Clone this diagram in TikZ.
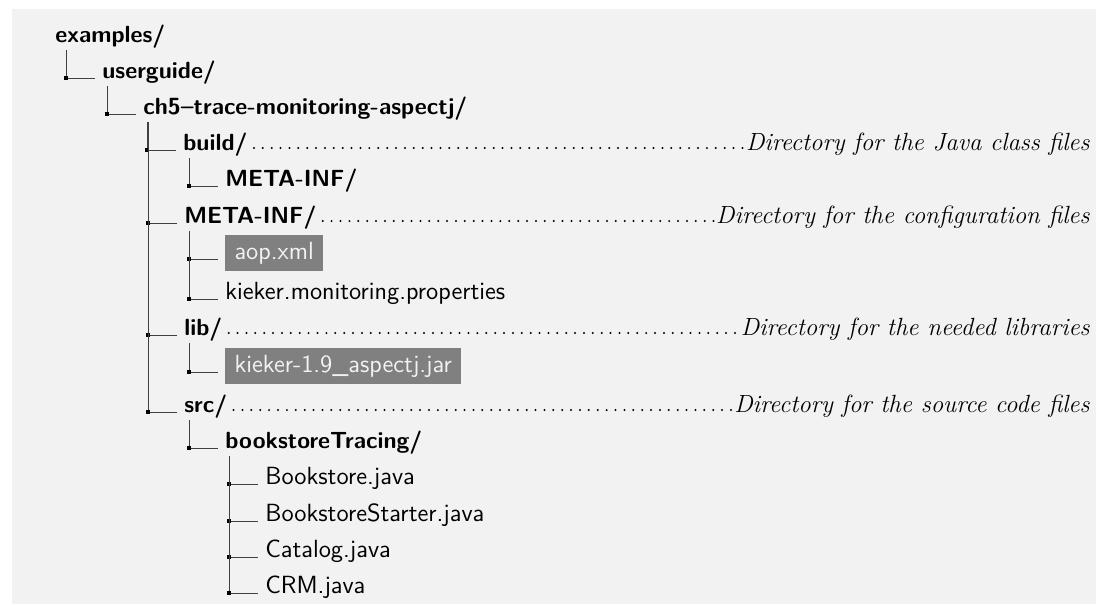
\documentclass[tikz,border=0pt]{standalone}
\usetikzlibrary{positioning}

\begin{document}
\begin{tikzpicture}[x=0.5348pt,y=-0.5348pt,
  dir/.style={anchor=base west,inner sep=0pt,font=\sffamily\bfseries\fontsize{12.5}{15}\selectfont},
  file/.style={anchor=base west,inner sep=0pt,font=\sffamily\fontsize{13.3}{16}\selectfont},
  hl/.style={anchor=base west,fill=black!50,text=black!5,font=\sffamily\fontsize{13.3}{16}\selectfont,
    inner xsep=4.9pt,inner ysep=4pt,text height=9pt,text depth=2.6pt},
  note/.style={anchor=base east,inner sep=0pt,font=\itshape\fontsize{13.3}{16}\selectfont},
  branch/.style={draw=black!75,line width=0.5pt},
  sq/.style={fill=black,inner sep=0pt,minimum size=2.3pt},
  leader/.style={line width=1.2pt,line cap=round,dash pattern=on 0pt off 4.75pt}]
  \useasboundingbox (0,0) rectangle (1096,605);
  \fill[black!5] (12,9) rectangle (1096,604);

  % cartelle e file
  \node[dir]  (examples)  at (55,42)  {examples/};
  \node[dir]  (userguide) at (102,78) {userguide/};
  \node[dir]  (ch5)       at (143,114) {ch5--trace-monitoring-aspectj/};
  \node[dir]  (build)     at (183,150) {build/};
  \node[dir]  (buildmeta) at (225,186) {META-INF/};
  \node[dir]  (meta)      at (184,223) {META-INF/};
  \node[hl]   (aop)       at (225,259) {aop.xml};
  \node[file] (props)     at (225,299) {kieker.monitoring.properties};
  \node[dir]  (lib)       at (184,335) {lib/};
  \node[hl]   (jar)       at (225,372) {kieker-1.9\_aspectj.jar};
  \node[dir]  (src)       at (184,412) {src/};
  \node[dir]  (tracing)   at (225,448) {bookstoreTracing/};
  \node[file] (bookstore) at (265,484) {Bookstore.java};
  \node[file] (starter)   at (265,521) {BookstoreStarter.java};
  \node[file] (catalog)   at (265,557) {Catalog.java};
  \node[file] (crm)       at (265,593) {CRM.java};

  % commenti a destra
  \node[note] (buildnote) at (1090,150) {Directory for the Java class files};
  \node[note] (metanote)  at (1090,223) {Directory for the configuration files};
  \node[note] (libnote)   at (1090,335) {Directory for the needed libraries};
  \node[note] (srcnote)   at (1090,412) {Directory for the source code files};
  \foreach \d in {build,meta,lib,src}
    \draw[leader] ([shift={(6,-2)}]\d.base east) -- ([shift={(-2,-2)}]\d note.base west);

  % rami dell'albero
  \foreach \p/\c in {examples/userguide,userguide/ch5,ch5/build,build/buildmeta,
      ch5/meta,meta/aop,meta/props,ch5/lib,lib/jar,ch5/src,src/tracing,
      tracing/bookstore,tracing/starter,tracing/catalog,tracing/crm}{
    \path ([shift={(-36,0)}]\c.base west) coordinate (j)
          ([shift={(0,8)}]\p.base west) coordinate (t);
    \draw[branch] (t -| j) -- (j) -- ([shift={(-7,0)}]\c.base west);
    \node[sq] at (j) {};
  }
\end{tikzpicture}
\end{document}
